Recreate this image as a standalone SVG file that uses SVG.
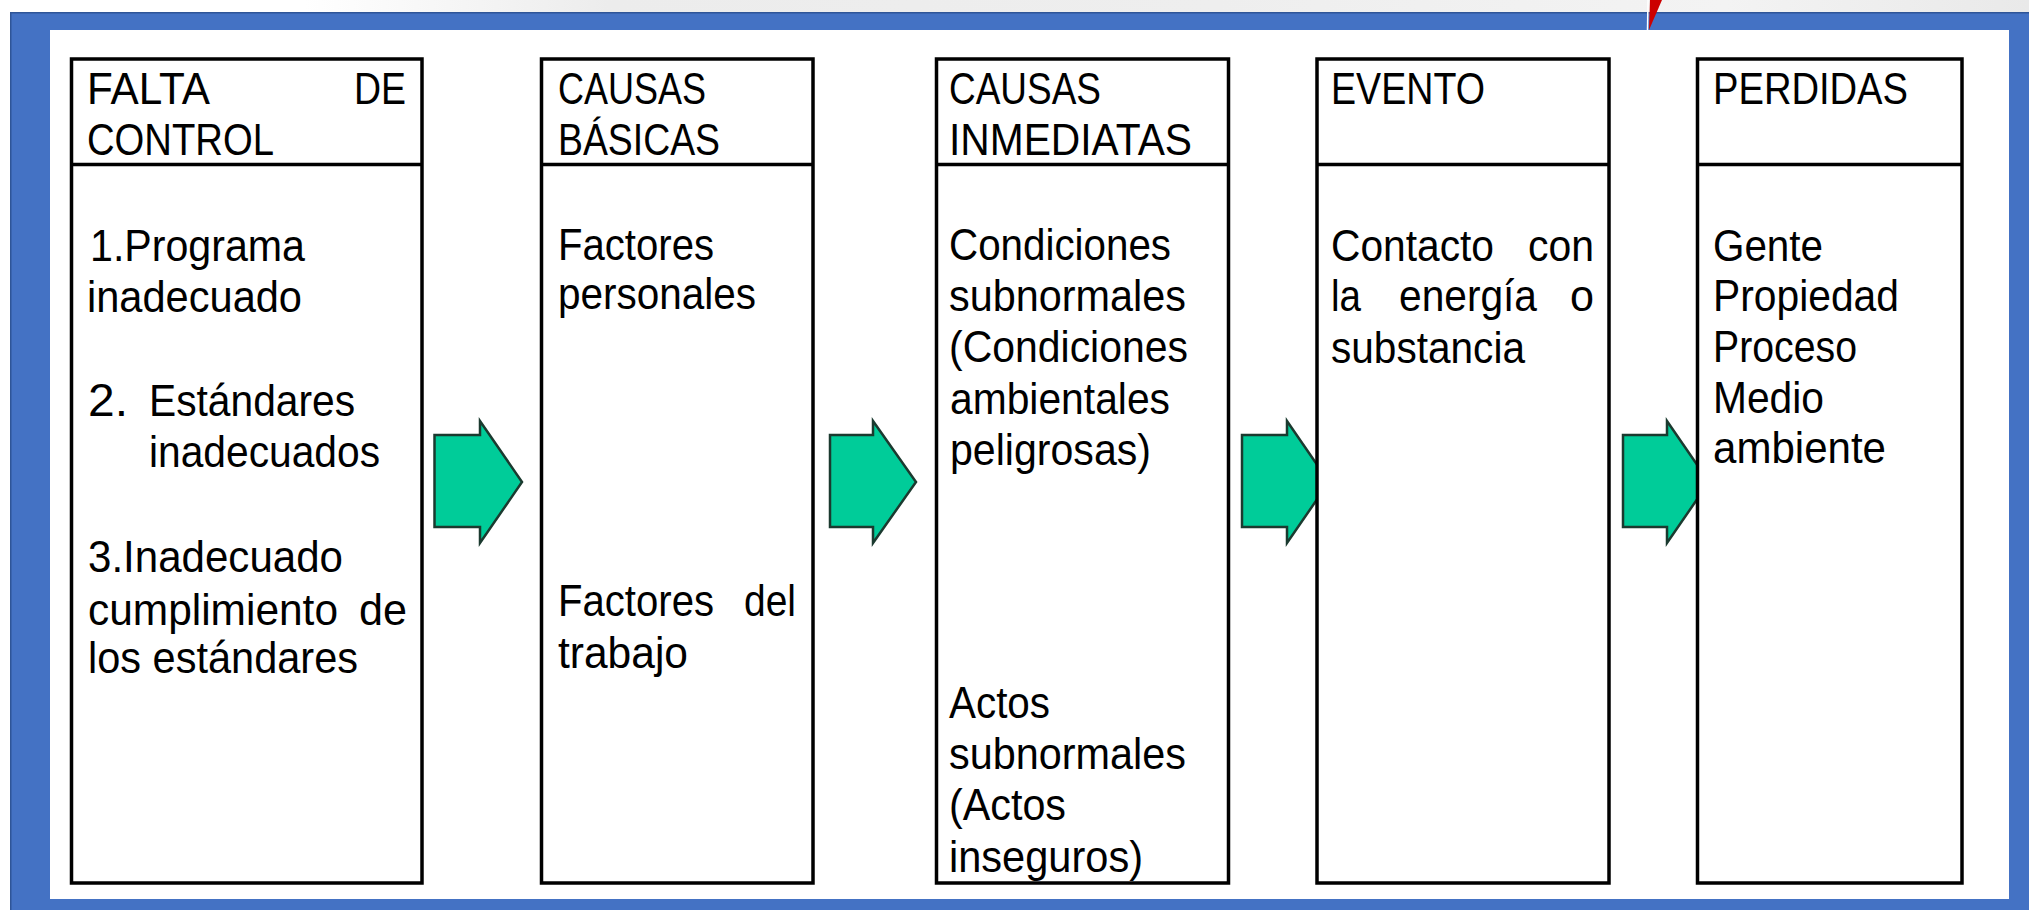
<svg xmlns="http://www.w3.org/2000/svg" width="2029" height="910" viewBox="0 0 2029 910">
<defs>
<linearGradient id="topbg" x1="0" y1="0" x2="1" y2="0">
<stop offset="0" stop-color="#ffffff"/>
<stop offset="0.15" stop-color="#ffffff"/>
<stop offset="0.3" stop-color="#ececec"/>
<stop offset="0.6" stop-color="#eeeeee"/>
<stop offset="0.85" stop-color="#f3f3f3"/>
<stop offset="1" stop-color="#e9e9e9"/>
</linearGradient>
<style>
.box{fill:#ffffff;stroke:#000000;stroke-width:3.5}
.sep{stroke:#000000;stroke-width:3.5}
.arr{fill:#00CC99;stroke:#1b3a2f;stroke-width:2.5;stroke-linejoin:miter}
text{font-family:"Liberation Sans",Tahoma,Arial,sans-serif;font-size:44px;fill:#000000}
.num{font-size:46px}
.end{text-anchor:end}
</style>
</defs>
<rect x="0" y="0" width="2029" height="910" fill="#ffffff"/>
<rect x="0" y="0" width="2029" height="12" fill="url(#topbg)"/>
<rect x="10" y="12" width="2019" height="898" fill="#4472C4"/>
<path d="M10.75 910 V12.75 H2029" fill="none" stroke="#2f5597" stroke-width="1.5"/>
<rect x="50" y="30" width="1959" height="869" fill="#ffffff"/>
<line x1="1648" y1="0" x2="1647.5" y2="30" stroke="#ffffff" stroke-width="1.5"/>
<polygon points="1650,0 1662,0 1649,30" fill="#CC0000"/>

<g id="connectors">
<polygon class="arr" points="434.5,435 480,435 480,421 522,482 480,543 480,527 434.5,527"/>
<polygon class="arr" points="830,435 873,435 873,421 916,482 873,543 873,527 830,527"/>
<polygon class="arr" points="1242,435 1287,435 1287,421 1329,482 1287,543 1287,527 1242,527"/>
<polygon class="arr" points="1623,435 1667,435 1667,421 1709,482 1667,543 1667,527 1623,527"/>
</g>

<g id="node-falta-control">
<rect class="box" x="71.5" y="59" width="350.5" height="824"/>
<line class="sep" x1="71.5" y1="164.5" x2="422" y2="164.5"/>
<text x="87" y="104" textLength="123" lengthAdjust="spacingAndGlyphs">FALTA</text>
<text x="354" y="104" textLength="52" lengthAdjust="spacingAndGlyphs">DE</text>
<text x="87" y="155" textLength="187" lengthAdjust="spacingAndGlyphs">CONTROL</text>
<text x="90" y="261" textLength="215" lengthAdjust="spacingAndGlyphs">1.Programa</text>
<text x="87" y="312" textLength="215" lengthAdjust="spacingAndGlyphs">inadecuado</text>
<text class="num" x="88" y="416" textLength="40" lengthAdjust="spacingAndGlyphs">2.</text>
<text x="149" y="416" textLength="206" lengthAdjust="spacingAndGlyphs">Estándares</text>
<text x="149" y="467" textLength="231" lengthAdjust="spacingAndGlyphs">inadecuados</text>
<text x="88" y="572" textLength="255" lengthAdjust="spacingAndGlyphs">3.Inadecuado</text>
<text x="88" y="625" textLength="250" lengthAdjust="spacingAndGlyphs">cumplimiento</text>
<text x="359" y="625" textLength="48" lengthAdjust="spacingAndGlyphs">de</text>
<text x="88" y="673" textLength="270" lengthAdjust="spacingAndGlyphs">los estándares</text>
</g>

<g id="node-causas-basicas">
<rect class="box" x="541.5" y="59" width="271.5" height="824"/>
<line class="sep" x1="541.5" y1="164.5" x2="813" y2="164.5"/>
<text x="558" y="104" textLength="148" lengthAdjust="spacingAndGlyphs">CAUSAS</text>
<text x="558" y="155" textLength="162" lengthAdjust="spacingAndGlyphs">BÁSICAS</text>
<text x="558" y="260" textLength="156" lengthAdjust="spacingAndGlyphs">Factores</text>
<text x="558" y="309" textLength="198" lengthAdjust="spacingAndGlyphs">personales</text>
<text x="558" y="616" textLength="156" lengthAdjust="spacingAndGlyphs">Factores</text>
<text x="744" y="616" textLength="52" lengthAdjust="spacingAndGlyphs">del</text>
<text x="558" y="668" textLength="130" lengthAdjust="spacingAndGlyphs">trabajo</text>
</g>

<g id="node-causas-inmediatas">
<rect class="box" x="936.5" y="59" width="292" height="824"/>
<line class="sep" x1="936.5" y1="164.5" x2="1228.5" y2="164.5"/>
<text x="949" y="104" textLength="152" lengthAdjust="spacingAndGlyphs">CAUSAS</text>
<text x="949" y="155" textLength="243" lengthAdjust="spacingAndGlyphs">INMEDIATAS</text>
<text x="949" y="260" textLength="222" lengthAdjust="spacingAndGlyphs">Condiciones</text>
<text x="949" y="311" textLength="237" lengthAdjust="spacingAndGlyphs">subnormales</text>
<text x="949" y="362" textLength="239" lengthAdjust="spacingAndGlyphs">(Condiciones</text>
<text x="950" y="414" textLength="220" lengthAdjust="spacingAndGlyphs">ambientales</text>
<text x="950" y="465" textLength="201" lengthAdjust="spacingAndGlyphs">peligrosas)</text>
<text x="949" y="718" textLength="101" lengthAdjust="spacingAndGlyphs">Actos</text>
<text x="949" y="769" textLength="237" lengthAdjust="spacingAndGlyphs">subnormales</text>
<text x="949" y="820" textLength="117" lengthAdjust="spacingAndGlyphs">(Actos</text>
<text x="949" y="872" textLength="194" lengthAdjust="spacingAndGlyphs">inseguros)</text>
</g>

<g id="node-evento">
<rect class="box" x="1317" y="59" width="292" height="824"/>
<line class="sep" x1="1317" y1="164.5" x2="1609" y2="164.5"/>
<text x="1331" y="104" textLength="154" lengthAdjust="spacingAndGlyphs">EVENTO</text>
<text x="1331" y="261" textLength="163" lengthAdjust="spacingAndGlyphs">Contacto</text>
<text x="1528" y="261" textLength="66" lengthAdjust="spacingAndGlyphs">con</text>
<text x="1331" y="311" textLength="30" lengthAdjust="spacingAndGlyphs">la</text>
<text x="1399" y="311" textLength="138" lengthAdjust="spacingAndGlyphs">energía</text>
<text x="1570" y="311" textLength="24" lengthAdjust="spacingAndGlyphs">o</text>
<text x="1331" y="363" textLength="194" lengthAdjust="spacingAndGlyphs">substancia</text>
</g>

<g id="node-perdidas">
<rect class="box" x="1697.5" y="59" width="264.5" height="824"/>
<line class="sep" x1="1697.5" y1="164.5" x2="1962" y2="164.5"/>
<text x="1713" y="104" textLength="195" lengthAdjust="spacingAndGlyphs">PERDIDAS</text>
<text x="1713" y="261" textLength="110" lengthAdjust="spacingAndGlyphs">Gente</text>
<text x="1713" y="311" textLength="186" lengthAdjust="spacingAndGlyphs">Propiedad</text>
<text x="1713" y="362" textLength="144" lengthAdjust="spacingAndGlyphs">Proceso</text>
<text x="1713" y="413" textLength="111" lengthAdjust="spacingAndGlyphs">Medio</text>
<text x="1713" y="463" textLength="173" lengthAdjust="spacingAndGlyphs">ambiente</text>
</g>
</svg>
